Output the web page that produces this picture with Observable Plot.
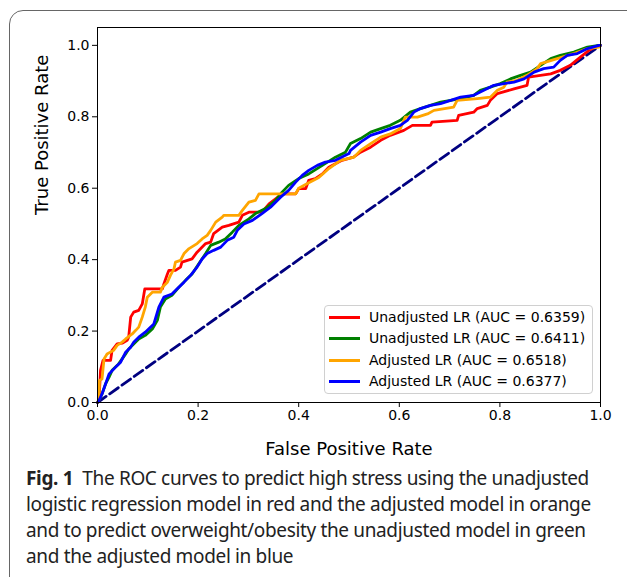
<!DOCTYPE html>
<html>
<head>
<meta charset="utf-8">
<script src="https://cdn.jsdelivr.net/npm/d3@7"></script>
<script src="https://cdn.jsdelivr.net/npm/@observablehq/plot@0.6"></script>
<style>
  html, body { margin: 0; padding: 0; background: #fff; overflow: hidden; }
  #wrap { position: relative; width: 627px; height: 577px; overflow: hidden; }
  #box { position: absolute; left: 9px; top: 10px; width: 640px; height: 590px;
         border: 1.5px solid #666; border-radius: 14px; box-sizing: border-box; }
  #chart { position: absolute; left: 0; top: 0; }
  #legend { position: absolute; left: 324px; top: 305px; width: 269px; height: 89px;
            box-sizing: border-box; border: 1px solid #d0d0d0; border-radius: 4px;
            background: rgba(255,255,255,0.85); font-family: "DejaVu Sans", sans-serif;
            font-size: 14px; color: #000; }
  .row { position: absolute; left: 0; height: 20px; display: flex; align-items: center; }
  .sw { display: inline-block; width: 31px; height: 3px; margin-left: 4px; margin-right: 9px; }
  #caption { position: absolute; left: 26px; top: 465px; font-family: "Noto Sans", sans-serif;
             font-size: 19px; line-height: 26px; color: #222; letter-spacing: -0.35px; white-space: nowrap; }
  #caption b { font-weight: 700; }
</style>
</head>
<body>
<div id="wrap">
  <div id="box"></div>
  <div id="chart"></div>
  <div id="legend"></div>
  <div id="caption"><b>Fig. 1</b>&nbsp; The ROC curves to predict high stress using the unadjusted<br>logistic regression model in red and the adjusted model in orange<br>and to predict overweight/obesity the unadjusted model in green<br>and the adjusted model in blue</div>
</div>
<script>
// ---- Data ----
const seriesNames = [
  "Unadjusted LR (AUC = 0.6359)",
  "Unadjusted LR (AUC = 0.6411)",
  "Adjusted LR (AUC = 0.6518)",
  "Adjusted LR (AUC = 0.6377)"
];
const seriesColors = ["red", "green", "orange", "blue"];

const redFpr = [0,0.003,0.006,0.011,0.026,0.029,0.039,0.049,0.059,0.062,0.066,0.072,0.082,0.089,0.094,0.129,0.132,0.139,0.142,0.155,0.165,0.168,0.188,0.198,0.215,0.225,0.231,0.248,0.261,0.281,0.288,0.301,0.327,0.341,0.367,0.394,0.400,0.414,0.420,0.433,0.447,0.460,0.486,0.509,0.523,0.543,0.563,0.582,0.609,0.626,0.662,0.665,0.715,0.718,0.748,0.755,0.775,0.781,0.795,0.828,0.854,0.857,0.901,0.920,0.940,0.960,0.977,0.997,1];
const redTpr = [0,0.006,0.09,0.118,0.118,0.146,0.164,0.166,0.174,0.183,0.239,0.253,0.258,0.276,0.318,0.318,0.332,0.360,0.370,0.370,0.379,0.393,0.402,0.421,0.445,0.449,0.473,0.491,0.496,0.505,0.524,0.533,0.533,0.556,0.584,0.584,0.599,0.599,0.622,0.627,0.640,0.659,0.678,0.687,0.701,0.715,0.734,0.748,0.762,0.776,0.776,0.785,0.790,0.804,0.813,0.823,0.832,0.846,0.865,0.878,0.888,0.911,0.920,0.930,0.944,0.967,0.986,1.0,1];

const greenFpr = [0,0.003,0.009,0.016,0.023,0.029,0.042,0.056,0.062,0.072,0.082,0.095,0.109,0.119,0.125,0.135,0.148,0.162,0.175,0.188,0.201,0.215,0.225,0.241,0.254,0.268,0.281,0.301,0.314,0.334,0.354,0.367,0.380,0.400,0.420,0.447,0.473,0.493,0.503,0.523,0.543,0.563,0.582,0.602,0.622,0.642,0.662,0.682,0.702,0.722,0.748,0.761,0.781,0.801,0.821,0.841,0.861,0.881,0.901,0.920,0.947,0.974,0.997,1];
const greenTpr = [0,0.006,0.024,0.052,0.071,0.090,0.108,0.136,0.150,0.164,0.178,0.188,0.206,0.230,0.267,0.290,0.300,0.323,0.342,0.360,0.388,0.417,0.440,0.449,0.458,0.477,0.496,0.514,0.529,0.543,0.566,0.589,0.608,0.627,0.640,0.664,0.687,0.701,0.725,0.739,0.757,0.767,0.776,0.790,0.813,0.823,0.832,0.841,0.846,0.851,0.860,0.874,0.883,0.893,0.906,0.916,0.925,0.944,0.963,0.972,0.981,0.995,1.0,1];

const orangeFpr = [0,0.003,0.004,0.009,0.013,0.019,0.032,0.039,0.049,0.056,0.069,0.076,0.082,0.089,0.095,0.099,0.109,0.125,0.129,0.139,0.145,0.152,0.155,0.165,0.172,0.182,0.198,0.208,0.218,0.225,0.235,0.248,0.251,0.281,0.288,0.301,0.314,0.321,0.357,0.394,0.400,0.420,0.440,0.460,0.483,0.510,0.523,0.543,0.563,0.582,0.602,0.612,0.636,0.656,0.669,0.708,0.715,0.755,0.781,0.795,0.808,0.814,0.834,0.854,0.874,0.881,0.914,0.947,0.974,0.997,1];
const orangeTpr = [0,0.01,0.062,0.066,0.122,0.136,0.146,0.160,0.169,0.178,0.192,0.202,0.211,0.239,0.267,0.295,0.309,0.309,0.323,0.337,0.356,0.374,0.393,0.398,0.417,0.431,0.445,0.458,0.468,0.482,0.505,0.519,0.524,0.524,0.538,0.561,0.566,0.584,0.584,0.584,0.600,0.615,0.630,0.655,0.678,0.687,0.706,0.725,0.743,0.752,0.767,0.799,0.799,0.808,0.818,0.827,0.846,0.851,0.855,0.874,0.883,0.897,0.902,0.916,0.935,0.949,0.963,0.977,0.991,0.995,1];

const blueFpr = [0,0.003,0.009,0.016,0.023,0.036,0.046,0.056,0.066,0.072,0.082,0.095,0.112,0.122,0.132,0.148,0.158,0.172,0.185,0.198,0.208,0.218,0.231,0.245,0.258,0.271,0.278,0.291,0.308,0.327,0.344,0.364,0.380,0.394,0.407,0.420,0.437,0.453,0.473,0.500,0.503,0.523,0.543,0.563,0.582,0.602,0.616,0.629,0.642,0.662,0.682,0.702,0.722,0.748,0.768,0.788,0.808,0.828,0.848,0.868,0.887,0.907,0.920,0.934,0.954,0.974,0.997,1];
const blueTpr = [0,0.006,0.024,0.052,0.080,0.099,0.113,0.141,0.155,0.169,0.183,0.197,0.220,0.267,0.295,0.304,0.318,0.337,0.356,0.379,0.402,0.417,0.426,0.435,0.454,0.463,0.482,0.500,0.510,0.529,0.547,0.575,0.594,0.617,0.636,0.650,0.664,0.673,0.678,0.697,0.706,0.729,0.748,0.757,0.767,0.776,0.790,0.813,0.823,0.832,0.837,0.846,0.855,0.860,0.874,0.888,0.893,0.897,0.906,0.925,0.935,0.939,0.958,0.972,0.977,0.991,1.0,1];

const diagonal = [0, 1];
const xTicks = [0, 0.2, 0.4, 0.6, 0.8, 1.0];
const yTicks = [0, 0.2, 0.4, 0.6, 0.8, 1.0];

// ---- Build ----
const fprs = [redFpr, greenFpr, orangeFpr, blueFpr];
const tprs = [redTpr, greenTpr, orangeTpr, blueTpr];
const curves = fprs.map((f, i) => f.map((x, j) => ({x, y: tprs[i][j]})));
const diagData = diagonal.map(v => ({x: v, y: v}));

const chart = Plot.plot({
  width: 627,
  height: 460,
  marginLeft: 97,
  marginRight: 27,
  marginTop: 27,
  marginBottom: 58,
  style: {fontFamily: "'DejaVu Sans', sans-serif", fontSize: "14px", color: "#000", background: "transparent"},
  x: {domain: [0, 1]},
  y: {domain: [0, 1.05]},
  marks: [
    Plot.line(diagData, {x: "x", y: "y", stroke: "navy", strokeWidth: 2.8, strokeDasharray: "10.5,4.5"}),
    ...curves.map((c, i) => Plot.line(c, {x: "x", y: "y", stroke: seriesColors[i], strokeWidth: 2.8, strokeLinejoin: "round"})),
    Plot.frame({stroke: "#000", strokeWidth: 1}),
    Plot.axisX({ticks: xTicks, tickFormat: d3.format(".1f"), tickSize: 5, tickPadding: 3, label: null}),
    Plot.axisY({ticks: yTicks, tickFormat: d3.format(".1f"), tickSize: 5, tickPadding: 3, label: null}),
    Plot.text(["False Positive Rate"], {frameAnchor: "bottom", dy: 47, fontSize: 18, lineAnchor: "middle"}),
    Plot.text(["True Positive Rate"], {frameAnchor: "left", dx: -55, rotate: -90, fontSize: 18, lineAnchor: "middle"})
  ]
});
document.getElementById("chart").appendChild(chart);

// ---- Legend ----
const leg = document.getElementById("legend");
const rowTops = [1, 22, 44, 65];
seriesNames.forEach((name, i) => {
  const row = document.createElement("div");
  row.className = "row";
  row.style.top = rowTops[i] + "px";
  const sw = document.createElement("span");
  sw.className = "sw";
  sw.style.background = seriesColors[i];
  const tx = document.createElement("span");
  tx.textContent = name;
  row.appendChild(sw);
  row.appendChild(tx);
  leg.appendChild(row);
});
</script>
</body>
</html>
